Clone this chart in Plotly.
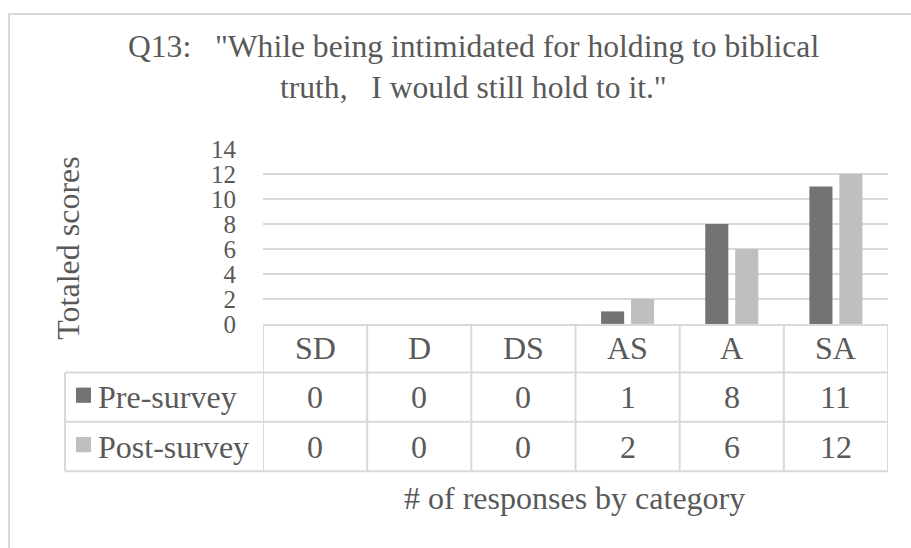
import plotly.graph_objects as go

# ---- data ----
categories = ["SD", "D", "DS", "AS", "A", "SA"]
series_names = ["Pre-survey", "Post-survey"]
pre_survey = [0, 0, 0, 1, 8, 11]
post_survey = [0, 0, 0, 2, 6, 12]
y_ticks = [0, 2, 4, 6, 8, 10, 12, 14]

title_lines = ['Q13:\u00a0\u00a0\u00a0"While being intimidated for holding to biblical',
               'truth,\u00a0\u00a0\u00a0I would still hold to it."']
y_title = "Totaled scores"
x_title = "# of responses by category"

# ---- styling ----
W, H = 911, 548
FONT = "Liberation Serif, Times New Roman, serif"
TXT = "#595959"
GRID = "#D9D9D9"
COLORS = ["#737373", "#BFBFBF"]
FS = 32
TITLE_FS = 31.6
TICK_FS = 25


def px(x):
    return x / W


def py(y):
    return 1 - y / H


# plot area / data-table geometry (pixels from the top-left corner)
plot_left, plot_right = 263, 888
plot_top, plot_bottom = 143, 327
row_edges = [327, 378, 430, 482]      # header row, then one row per series
legend_left = 65

fig = go.Figure()
for name, vals, col in zip(series_names, [pre_survey, post_survey], COLORS):
    fig.add_trace(go.Bar(x=categories, y=vals, name=name, marker_color=col,
                         marker_line_width=0, showlegend=False))

shapes = []
annotations = []

# outer chart frame (only its top and left edges fall inside the page)
shapes.append(dict(type="rect", xref="paper", yref="paper",
                   x0=px(9), x1=px(W + 20), y0=py(H + 20), y1=py(1),
                   line=dict(color=GRID, width=2), layer="below"))

# data table: vertical lines at the category boundaries
for i in range(len(categories) + 1):
    shapes.append(dict(type="line", xref="x", yref="paper",
                       x0=i - 0.5, x1=i - 0.5,
                       y0=py(row_edges[0]), y1=py(row_edges[-1]),
                       line=dict(color=GRID, width=2)))
# legend column left edge
shapes.append(dict(type="line", xref="paper", yref="paper",
                   x0=px(legend_left), x1=px(legend_left),
                   y0=py(row_edges[1]), y1=py(row_edges[-1]),
                   line=dict(color=GRID, width=2)))
# horizontal row separators
for ye in row_edges[1:]:
    shapes.append(dict(type="line", xref="paper", yref="paper",
                       x0=px(legend_left), x1=px(plot_right),
                       y0=py(ye), y1=py(ye),
                       line=dict(color=GRID, width=2)))

# header row: category labels
header_mid = (row_edges[0] + row_edges[1]) / 2
for c in categories:
    annotations.append(dict(x=c, xref="x", y=py(header_mid), yref="paper",
                            text=c, showarrow=False, xanchor="center", yanchor="middle",
                            font=dict(family=FONT, size=FS, color=TXT)))

# series rows: legend key, series name and the values
for r, (name, vals, col) in enumerate(zip(series_names, [pre_survey, post_survey], COLORS)):
    mid = (row_edges[r + 1] + row_edges[r + 2]) / 2
    shapes.append(dict(type="rect", xref="paper", yref="paper",
                       x0=px(76), x1=px(91), y0=py(mid + 6), y1=py(mid - 10),
                       fillcolor=col, line=dict(width=0)))
    annotations.append(dict(x=px(96), xref="paper", y=py(mid), yref="paper",
                            text=name, showarrow=False, xanchor="left", yanchor="middle",
                            font=dict(family=FONT, size=FS, color=TXT)))
    for c, v in zip(categories, vals):
        annotations.append(dict(x=c, xref="x", y=py(mid), yref="paper",
                                text=str(v), showarrow=False, xanchor="center",
                                yanchor="middle",
                                font=dict(family=FONT, size=FS, color=TXT)))

# chart title, two lines
for i, line in enumerate(title_lines):
    annotations.append(dict(x=px(473), xref="paper", y=py(35 + i * 43), yref="paper",
                            text=line, showarrow=False, xanchor="center", yanchor="middle",
                            font=dict(family=FONT, size=TITLE_FS, color=TXT)))

# axis titles
annotations.append(dict(x=px(68), xref="paper", y=py(248), yref="paper",
                        text=y_title, textangle=-90, showarrow=False,
                        xanchor="center", yanchor="middle",
                        font=dict(family=FONT, size=FS, color=TXT)))
annotations.append(dict(x=px(574), xref="paper", y=py(510), yref="paper",
                        text=x_title, showarrow=False, xanchor="center", yanchor="middle",
                        font=dict(family=FONT, size=FS, color=TXT)))

fig.update_layout(
    width=W, height=H,
    margin=dict(l=0, r=0, t=0, b=0),
    paper_bgcolor="white", plot_bgcolor="white",
    barmode="group", bargap=0.425, bargroupgap=0.23,
    shapes=shapes, annotations=annotations,
    xaxis=dict(domain=[px(plot_left), px(plot_right)], range=[-0.5, 5.5],
               showticklabels=False, showgrid=False, zeroline=False,
               showline=True, linecolor=GRID, linewidth=2, ticks=""),
    yaxis=dict(domain=[py(plot_bottom), py(plot_top)], range=[0, 14],
               tickvals=y_ticks, ticktext=[str(t) for t in y_ticks],
               showgrid=True, gridcolor=GRID, gridwidth=1.5,
               zeroline=False, showline=False, ticks="",
               ticklabelstandoff=26,
               tickfont=dict(family=FONT, size=TICK_FS, color=TXT)),
)

fig.write_html("out.html")
